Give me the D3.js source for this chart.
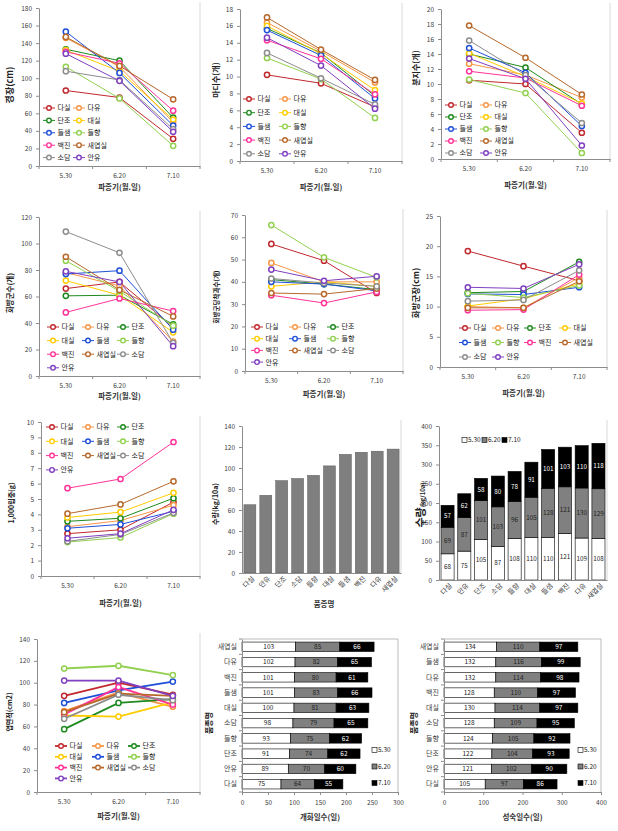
<!DOCTYPE html>
<html><head><meta charset="utf-8">
<script src="https://cdn.jsdelivr.net/npm/d3@7"></script>
<style>body{margin:0;background:#fff}svg{display:block}text{font-family:"Noto Sans CJK KR","Noto Sans",sans-serif}</style>
</head><body>
<script>
// ---------- DATA ----------
const varieties = ["다실","다유","단조","대실","들샘","들향","백진","새엽실","소담","안유"];
const sowDates = ["5.30","6.20","7.10"];
const colors = ["#c0282d","#f79646","#1f8a1f","#ffcc00","#1f4fd8","#92d050","#ff3399","#b8682a","#8c8c8c","#8040c0"];

const stemLength = [[86,78,31],[146,113,50],[133,120,55],[132,108,53],[153,106,46],[113,77,23],[130,117,63],[147,114,76],[108,98,42],[128,97,39]];
const nodeCount = [[10.2,9.2,6.4],[16.4,13.0,9.3],[15.7,12.8,7.7],[16.0,12.7,8.4],[15.5,12.5,7.4],[12.2,9.7,5.1],[14.3,12.1,7.9],[17.0,13.2,9.6],[12.8,9.8,6.7],[14.6,11.3,6.2]];
const branchCount = [[10.5,10.0,3.5],[12.7,11.2,8.2],[14.0,12.2,7.3],[14.1,11.0,7.4],[14.8,11.5,4.4],[10.6,8.8,0.8],[11.7,10.8,7.1],[17.8,13.5,8.6],[15.8,11.2,4.8],[13.4,10.7,1.8]];
const clusterCount = [[66,71,37],[78,68,26],[60.5,61,39],[72,61,33],[77,79.5,35],[87,64,38],[48,58.5,49],[90,65,45],[109,93,25],[79,71,22.5]];
const podsPerCluster = [[57,49.5,35],[48.5,40,40],[41,39,36.5],[38,40,38],[40,39,36],[65.5,51,42],[34,30.5,35.5],[35,34.5,37],[41.5,39.5,38],[45.5,40.5,42.5]];
const clusterLength = [[19.2,16.7,14.3],[10.0,9.8,14.8],[12.3,12.5,17.4],[10.1,11.3,13.8],[12.1,12.0,13.2],[12.2,11.5,13.5],[9.4,9.5,15.3],[9.8,9.8,14.2],[10.9,11.1,16.0],[13.2,13.0,17.0]];
const seedWeight = [[2.75,3.0,4.8],[3.2,3.6,4.6],[3.55,3.75,5.05],[3.8,4.15,5.4],[3.1,3.35,4.2],[2.2,2.5,4.05],[5.7,6.3,8.7],[4.05,4.65,6.15],[2.25,2.7,4.1],[2.45,2.75,4.3]];
const leafArea = [[88,100,89],[74,91,78],[57.5,81.5,85],[70,69,82],[81.5,93,101],[113,115.5,107],[71,96,80],[73,90,88],[67,89,84],[102,102,88]];

const yieldNames = ["다실","안유","단조","소담","들향","대실","들샘","백진","다유","새엽실"];
const yieldValues = [65,74,88,90,93,102,113,115,116,118];

const stackNames = ["다실","안유","단조","소담","들향","대실","들샘","백진","다유","새엽실"];
const stack530 = [68,75,105,87,108,110,110,121,109,108];
const stack620 = [69,87,101,103,96,105,128,121,130,129];
const stack710 = [57,62,58,80,78,91,101,103,110,118];

const flowerNames = ["새엽실","다유","백진","들샘","대실","소담","들향","단조","안유","다실"];
const flower530 = [103,102,101,101,100,98,93,91,89,75];
const flower620 = [85,82,80,83,81,79,75,74,70,64];
const flower710 = [66,65,61,66,63,65,62,62,60,55];

const matureNames = ["새엽실","들샘","다유","백진","대실","소담","들향","단조","안유","다실"];
const mature530 = [134,132,132,128,130,128,124,122,121,105];
const mature620 = [110,116,114,110,114,109,105,104,102,97];
const mature710 = [97,99,98,97,97,95,92,93,90,86];

const stackSeries = ["5.30","6.20","7.10"];
const stackFills = ["#ffffff","#808080","#000000"];

// ---------- DRAW ----------
const svg = d3.select("body").append("svg").attr("width",618).attr("height",831);
svg.append("rect").attr("width",618).attr("height",831).attr("fill","#fff");

function styleAxis(g){
  g.selectAll(".domain").attr("stroke","#8c8c8c");
  g.selectAll(".tick line").attr("stroke","#8c8c8c");
  g.selectAll(".tick text").attr("fill","#404040").attr("font-size",6.5);
}
function yTitle(x,y,txt,size){
  svg.append("text").attr("transform",`translate(${x},${y}) rotate(-90)`).attr("text-anchor","middle")
    .attr("font-size",size||8.5).attr("font-weight","bold").attr("fill","#222").text(txt);
}
function xTitle(x,y,txt){
  svg.append("text").attr("x",x).attr("y",y).attr("text-anchor","middle").attr("font-size",7.5)
    .attr("font-weight","bold").attr("fill","#333").text(txt);
}

function linePanel(c){
  const x = d3.scaleBand().domain(sowDates).range([c.l,c.r]);
  const y = d3.scaleLinear().domain([0,c.ymax]).range([c.b,c.t]);
  const g = svg.append("g");
  g.append("line").attr("x1",c.r).attr("x2",c.r).attr("y1",c.t-6).attr("y2",c.b).attr("stroke","#d9d9d9");
  const ya = g.append("g").attr("transform",`translate(${c.l},0)`)
    .call(d3.axisLeft(y).tickValues(d3.range(0,c.ymax+c.step/2,c.step)).tickSize(3).tickSizeOuter(0).tickPadding(4));
  styleAxis(ya);
  const xa = g.append("g").attr("transform",`translate(0,${c.b})`)
    .call(d3.axisBottom(x).tickSize(0).tickSizeOuter(0).tickPadding(7));
  styleAxis(xa);
  g.selectAll(null).data(d3.range(sowDates.length+1)).join("line")
    .attr("x1",i=>c.l+i*x.step()).attr("x2",i=>c.l+i*x.step()).attr("y1",c.b).attr("y2",c.b+3).attr("stroke","#8c8c8c");
  const cx = i => x(sowDates[i]) + x.bandwidth()/2;
  const line = d3.line().x((d,i)=>cx(i)).y(d=>y(d));
  const lw = c.lw || 1;
  c.data.forEach((vals,k)=>{
    g.append("path").attr("d",line(vals)).attr("fill","none").attr("stroke",colors[k]).attr("stroke-width",lw);
  });
  c.data.forEach((vals,k)=>{
    g.selectAll(null).data(vals).join("circle").attr("cx",(d,i)=>cx(i)).attr("cy",d=>y(d)).attr("r",2.6)
      .attr("fill","#fff").attr("stroke",colors[k]).attr("stroke-width",1.5);
  });
  // legend
  varieties.forEach((v,k)=>{
    const col = k % c.cols, row = Math.floor(k / c.cols);
    const lx = c.legX[col], ly = c.legY + row*c.legDy;
    g.append("line").attr("x1",lx).attr("x2",lx+12).attr("y1",ly).attr("y2",ly).attr("stroke",colors[k]).attr("stroke-width",lw);
    g.append("circle").attr("cx",lx+6).attr("cy",ly).attr("r",2.3).attr("fill","#fff").attr("stroke",colors[k]).attr("stroke-width",1.4);
    g.append("text").attr("x",lx+14.5).attr("y",ly).attr("dy","0.35em").attr("font-size",7).attr("fill","#222").text(v);
  });
  yTitle(c.ylx,c.yly,c.ylabel,c.ysz);
  xTitle((c.l+c.r)/2, c.xty, "파종기(월.일)");
}

linePanel({l:39,r:200,t:8,b:166,ymax:180,step:20,data:stemLength,cols:2,legX:[43,73],legY:108,legDy:12.4,ylx:13,yly:85,ylabel:"경장(cm)",ysz:9,xty:190});
linePanel({l:240,r:402,t:9,b:161,ymax:18,step:2,data:nodeCount,cols:2,legX:[243,279],legY:99,legDy:13.7,ylx:219,yly:80,ylabel:"마디수(개)",ysz:8,xty:190});
linePanel({l:441,r:610,t:9,b:159,ymax:20,step:2,data:branchCount,cols:2,legX:[445,480],legY:105,legDy:12,ylx:419,yly:68,ylabel:"분지수(개)",ysz:8,xty:188});
linePanel({l:39,r:200,t:217,b:376,ymax:120,step:20,data:clusterCount,cols:3,legX:[47,82,117],legY:327,legDy:13.6,ylx:13,yly:293,ylabel:"화방군수(개)",ysz:7.5,xty:399});
linePanel({l:245,r:403,t:215,b:371,ymax:70,step:10,data:podsPerCluster,cols:3,legX:[251,289,327],legY:327,legDy:11.7,ylx:219,yly:297,ylabel:"화방군당착과수(개)",ysz:6.5,xty:397});
linePanel({l:440,r:607,t:216,b:367,ymax:25,step:5,data:clusterLength,cols:4,legX:[459,492,524,559],legY:328,legDy:14.5,ylx:419,yly:293,ylabel:"화방군장(cm)",ysz:8.5,xty:396});
linePanel({l:41,r:200,t:422,b:576,ymax:10,step:1,data:seedWeight,cols:3,legX:[46,82,117],legY:427,legDy:14.3,ylx:14,yly:503,ylabel:"1,000립중(g)",ysz:7,xty:606});
linePanel({l:37,r:200,t:639,b:792,ymax:140,step:20,data:leafArea,cols:3,legX:[55,92,128],legY:746,legDy:10.8,ylx:12,yly:712,ylabel:"엽면적(cm2)",ysz:7,xty:819,lw:1.8});

// ---- Panel 8: yield bars ----
(function(){
  const l=242,r=401,t=426,b=573;
  const x = d3.scaleBand().domain(yieldNames).range([l,r]).paddingInner(0.25).paddingOuter(0.12);
  const y = d3.scaleLinear().domain([0,140]).range([b,t]);
  svg.append("line").attr("x1",r).attr("x2",r).attr("y1",t-6).attr("y2",b).attr("stroke","#d9d9d9");
  const ya = svg.append("g").attr("transform",`translate(${l},0)`).call(d3.axisLeft(y).tickValues(d3.range(0,141,20)).tickSize(3).tickSizeOuter(0).tickPadding(4));
  styleAxis(ya);
  svg.selectAll(null).data(yieldValues).join("rect")
    .attr("x",(d,i)=>x(yieldNames[i])).attr("width",x.bandwidth()).attr("y",d=>y(d)).attr("height",d=>b-y(d))
    .attr("fill","#7f7f7f").attr("stroke","#5a5a5a").attr("stroke-width",0.5);
  const xa = svg.append("g").attr("transform",`translate(0,${b})`).call(d3.axisBottom(x).tickSize(0).tickSizeOuter(0).tickPadding(3));
  styleAxis(xa);
  xa.selectAll(".tick text").attr("text-anchor","end").attr("font-size",7).attr("transform","rotate(-45)").attr("dx","-0.1em").attr("dy","0.7em");
  yTitle(218,504,"수량(kg/10a)",7);
  xTitle(324,607,"품종명");
})();

// ---- Panel 9: stacked yield ----
(function(){
  const l=439,r=607,t=426,b=580;
  const x = d3.scaleBand().domain(stackNames).range([l,r]).paddingInner(0.22).paddingOuter(0.12);
  const y = d3.scaleLinear().domain([0,400]).range([b,t]);
  svg.append("line").attr("x1",r).attr("x2",r).attr("y1",t-6).attr("y2",b).attr("stroke","#d9d9d9");
  const ya = svg.append("g").attr("transform",`translate(${l},0)`).call(d3.axisLeft(y).tickValues(d3.range(0,401,50)).tickSize(3).tickSizeOuter(0).tickPadding(4));
  styleAxis(ya);
  const rows = stackNames.map((n,i)=>({name:n,"5.30":stack530[i],"6.20":stack620[i],"7.10":stack710[i]}));
  const series = d3.stack().keys(stackSeries)(rows);
  series.forEach((s,k)=>{
    svg.selectAll(null).data(s).join("rect")
      .attr("x",d=>x(d.data.name)).attr("width",x.bandwidth()).attr("y",d=>y(d[1])).attr("height",d=>y(d[0])-y(d[1]))
      .attr("fill",stackFills[k]).attr("stroke","#000").attr("stroke-width",0.6);
    svg.selectAll(null).data(s).join("text")
      .attr("x",d=>x(d.data.name)+x.bandwidth()/2).attr("y",d=>(y(d[0])+y(d[1]))/2).attr("dy","0.35em")
      .attr("text-anchor","middle").attr("font-size",6.3).attr("fill",k===2?"#fff":"#222").text(d=>d[1]-d[0]);
  });
  const xa = svg.append("g").attr("transform",`translate(0,${b})`).call(d3.axisBottom(x).tickSize(0).tickSizeOuter(0).tickPadding(3));
  styleAxis(xa);
  xa.selectAll(".tick text").attr("text-anchor","end").attr("font-size",7).attr("transform","rotate(-45)").attr("dx","-0.1em").attr("dy","0.7em");
  // legend
  stackSeries.forEach((s,k)=>{
    const lx = 462 + k*20;
    svg.append("rect").attr("x",lx).attr("y",437.5).attr("width",5).attr("height",5).attr("fill",stackFills[k]).attr("stroke","#000").attr("stroke-width",0.6);
    svg.append("text").attr("x",lx+6).attr("y",440).attr("dy","0.35em").attr("font-size",6.5).attr("fill","#222").text(s);
  });
  const t1 = svg.append("text").attr("transform","translate(425,505) rotate(-90)").attr("text-anchor","middle").attr("font-weight","bold").attr("fill","#222");
  t1.append("tspan").attr("font-size",11).text("수량");
  t1.append("tspan").attr("font-size",6).text("(kg/10a)");
})();

// ---- Panels 11 & 12: horizontal stacked ----
function hStack(c){
  const y = d3.scaleBand().domain(c.names).range([c.t,c.b]).paddingInner(0.38).paddingOuter(0.2);
  const x = d3.scaleLinear().domain([0,c.xmax]).range([c.l,c.r]);
  svg.append("line").attr("x1",c.l).attr("x2",c.r).attr("y1",c.t).attr("y2",c.t).attr("stroke","#bbb");
  svg.append("line").attr("x1",c.r).attr("x2",c.r).attr("y1",c.t).attr("y2",c.b).attr("stroke","#bbb");
  const rows = c.names.map((n,i)=>({name:n,"5.30":c.v[0][i],"6.20":c.v[1][i],"7.10":c.v[2][i]}));
  const series = d3.stack().keys(stackSeries)(rows);
  series.forEach((s,k)=>{
    svg.selectAll(null).data(s).join("rect")
      .attr("y",d=>y(d.data.name)).attr("height",y.bandwidth()).attr("x",d=>x(d[0])).attr("width",d=>x(d[1])-x(d[0]))
      .attr("fill",stackFills[k]).attr("stroke","#000").attr("stroke-width",0.6);
    svg.selectAll(null).data(s).join("text")
      .attr("y",d=>y(d.data.name)+y.bandwidth()/2).attr("x",d=>(x(d[0])+x(d[1]))/2).attr("dy","0.35em")
      .attr("text-anchor","middle").attr("font-size",6.5).attr("fill",k===2?"#fff":"#222").text(d=>d[1]-d[0]);
  });
  const ya = svg.append("g").attr("transform",`translate(${c.l},0)`).call(d3.axisLeft(y).tickSize(0).tickSizeOuter(0).tickPadding(5));
  styleAxis(ya);
  ya.selectAll(".tick text").attr("font-size",7);
  svg.selectAll(null).data(d3.range(c.names.length+1)).join("line")
    .attr("x1",c.l-3).attr("x2",c.l).attr("y1",i=>c.t+i*(c.b-c.t)/c.names.length).attr("y2",i=>c.t+i*(c.b-c.t)/c.names.length).attr("stroke","#8c8c8c");
  const xa = svg.append("g").attr("transform",`translate(0,${c.b})`).call(d3.axisBottom(x).ticks(c.xmax/c.step).tickSize(3).tickSizeOuter(0).tickPadding(5));
  styleAxis(xa);
  stackSeries.forEach((s,k)=>{
    const ly = 750 + k*16.5;
    svg.append("rect").attr("x",c.legx).attr("y",ly-2.5).attr("width",5).attr("height",5).attr("fill",stackFills[k]).attr("stroke","#000").attr("stroke-width",0.6);
    svg.append("text").attr("x",c.legx+6).attr("y",ly).attr("dy","0.35em").attr("font-size",6.5).attr("fill","#222").text(s);
  });
  yTitle(c.ylx,723,"품종명",8);
  xTitle((c.l+c.r)/2,820,c.xlabel);
}
hStack({l:242,r:398,t:639,b:792,xmax:300,step:50,names:flowerNames,v:[flower530,flower620,flower710],legx:372,ylx:212,xlabel:"개화일수(일)"});
hStack({l:444,r:601,t:639,b:792,xmax:400,step:100,names:matureNames,v:[mature530,mature620,mature710],legx:578,ylx:417,xlabel:"성숙일수(일)"});
</script>
</body></html>
